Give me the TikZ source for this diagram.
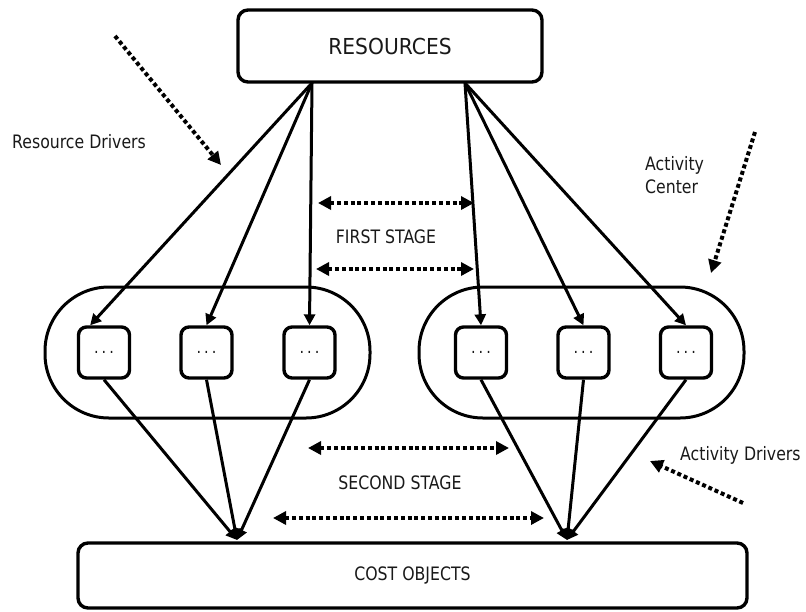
\documentclass[tikz,border=0pt]{standalone}
\usepackage{fontspec}
\usetikzlibrary{arrows.meta}
\newfontfamily\labfont[FakeStretch=0.85]{DejaVu Sans}
\newfontfamily\resfont[FakeStretch=0.92]{DejaVu Sans}
\definecolor{txt}{gray}{0.1}
\tikzset{
  roundbox/.style={draw=black, line width=3.4pt, rounded corners=10pt, fill=white, inner sep=0pt},
  smallbox/.style={draw=black, line width=3.4pt, rounded corners=8pt, fill=white, inner sep=0pt, minimum size=51pt, text=txt, font=\labfont\fontsize{17}{18}\selectfont},
  capsule/.style={draw=black, line width=3pt, inner sep=0pt, minimum width=325pt, minimum height=131pt, rounded corners=64pt},
  solidarrow/.style={line width=3pt, -{Triangle[length=11pt,width=11pt]}},
  dasharrow/.style={line width=4pt, dash pattern=on 4pt off 2.8pt, -{Triangle[length=13pt,width=13pt]}},
  dashdouble/.style={line width=4pt, dash pattern=on 4pt off 2.8pt, {Triangle[length=13pt,width=13pt]}-{Triangle[length=13pt,width=13pt]}},
  lab/.style={text=txt, inner sep=0pt, font=\labfont\fontsize{18.5}{22}\selectfont}
}
\newcommand{\dotsbox}{.\hspace{3pt}.\hspace{3pt}.}
\begin{document}
\begin{tikzpicture}[x=1pt,y=-1pt]
\useasboundingbox (0,0) rectangle (806,611);
% capsules (activity centers)
\node[capsule] (capL) at (207.5,352.5) {};
\node[capsule] (capR) at (581.5,352.5) {};
% main boxes
\node[roundbox, minimum width=304pt, minimum height=72pt, text=txt, font=\resfont\fontsize{22}{26}\selectfont] (res) at (390,46) {RESOURCES};
\node[roundbox, minimum width=669pt, minimum height=65pt, text=txt, font=\labfont\fontsize{18.5}{22}\selectfont] (cost) at (412.5,575.5) {COST OBJECTS};
% small activity boxes
\node[smallbox] (b1) at (104,352.5) {\dotsbox};
\node[smallbox] (b2) at (206.5,352.5) {\dotsbox};
\node[smallbox] (b3) at (309.5,352.5) {\dotsbox};
\node[smallbox] (b4) at (481,352.5) {\dotsbox};
\node[smallbox] (b5) at (583.5,352.5) {\dotsbox};
\node[smallbox] (b6) at (686,352.5) {\dotsbox};
% connector points
\coordinate (rl) at (312,83);
\coordinate (rr) at (465,83);
\coordinate (cl) at (237,540);
\coordinate (cr) at (567,540);
% first stage arrows
\draw[solidarrow] (rl) -- (b1.117);
\draw[solidarrow] (rl) -- (b2.north);
\draw[solidarrow] (rl) -- (b3.north);
\draw[solidarrow] (rr) -- (b4.north);
\draw[solidarrow] (rr) -- (b5.north);
\draw[solidarrow] (rr) -- (b6.north);
% second stage arrows
\draw[solidarrow] (b1.south) -- (cl);
\draw[solidarrow] (b2.south) -- (cl);
\draw[solidarrow] (b3.south) -- (cl);
\draw[solidarrow] (b4.south) -- (cr);
\draw[solidarrow] (b5.south) -- (cr);
\draw[solidarrow] (b6.south) -- (cr);
% stage double arrows
\coordinate (f1a) at (318,203); \coordinate (f1b) at (474,203);
\coordinate (f2a) at (316,269); \coordinate (f2b) at (474,269);
\coordinate (s1a) at (308,448); \coordinate (s1b) at (509,448);
\coordinate (s2a) at (273,518); \coordinate (s2b) at (544,518);
\draw[dashdouble] (f1a) -- (f1b);
\draw[dashdouble] (f2a) -- (f2b);
\draw[dashdouble] (s1a) -- (s1b);
\draw[dashdouble] (s2a) -- (s2b);
\node[lab] (first) at (386,237) {FIRST STAGE};
\node[lab] (second) at (400,483) {SECOND STAGE};
% driver labels and pointers
\node[lab] (rdl) at (79,142) {Resource Drivers};
\node[lab, align=left, anchor=west, font=\labfont\fontsize{18.5}{23}\selectfont] (acl) at (645,175) {Activity\\Center};
\node[lab, anchor=west] (adl) at (680,455) {Activity Drivers};
\coordinate (rd1) at (115,36); \coordinate (rd2) at (221,165);
\coordinate (ac1) at (755,132); \coordinate (ac2) at (711,273);
\coordinate (ad1) at (743,503); \coordinate (ad2) at (650,461);
\draw[dasharrow] (rd1) -- (rd2);
\draw[dasharrow] (ac1) -- (ac2);
\draw[dasharrow] (ad1) -- (ad2);
\end{tikzpicture}
\end{document}
